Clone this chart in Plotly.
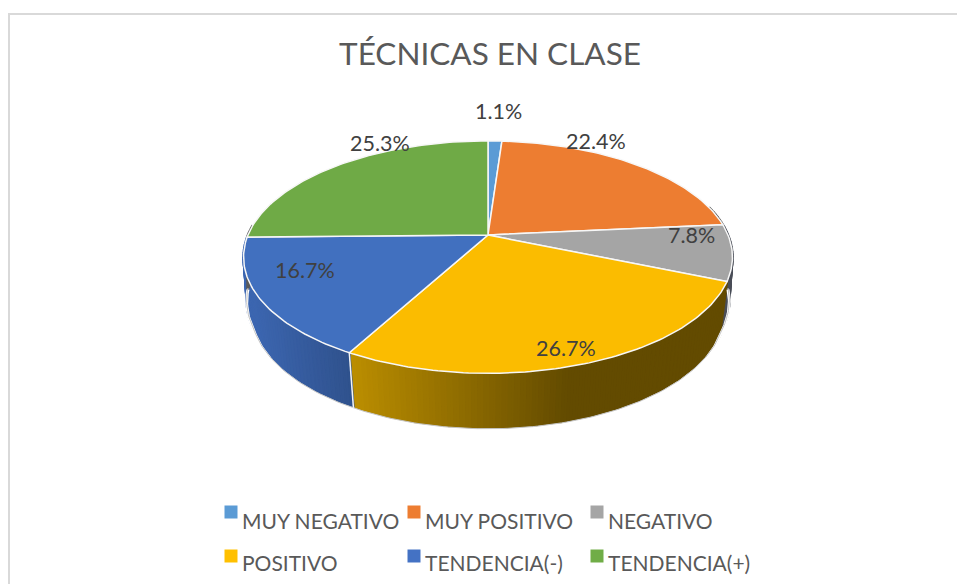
import math
import plotly.graph_objects as go

title = "TÉCNICAS EN CLASE"
categories = ["MUY NEGATIVO", "MUY POSITIVO", "NEGATIVO", "POSITIVO", "TENDENCIA(-)", "TENDENCIA(+)"]
values = [1.1, 22.4, 7.8, 26.7, 16.7, 25.3]
colors = ["#5B9BD5", "#ED7D31", "#A5A5A5", "#FFC000", "#4472C4", "#70AD47"]
legend_colors = colors
top_colors = ["#5B9BD5", "#ED7D31", "#A5A5A5", "#FBBC00", "#4170BF", "#6FAA46"]

W, H = 957, 584
CX, CY, R, A, K = 488, 235, 240, 112, 0.19
CY2, A2, SHRINK = 288, 114, 0.03
FONT = "Lato, Carlito, sans-serif"

label_pos = [(498, 111), (596, 141), (691, 235), (566, 348), (305, 270), (380, 143)]
legend_cols = [231, 414, 597]
legend_rows = [512, 556]
legend_text_y = [520, 562]
legend_text_dx = 9


def top_pt(a):
    s, c = math.cos(a), math.sin(a)
    d = 1 + K * s
    return CX + R * c / d, CY - A * s / d


def bot_pt(a):
    s, c = math.cos(a), math.sin(a)
    d = 1 + K * s
    shrink = 1 - SHRINK * min(1.0, max(0.0, -s / 0.35))
    return CX + shrink * R * c / d, CY2 - A2 * s / d


def lerp(p, q, t):
    t = max(0.0, min(1.0, t))
    return tuple(round(p[i] + (q[i] - p[i]) * t) for i in range(3))


def wall_color(name, x):
    if name == "POSITIVO":
        return lerp((186, 141, 0), (99, 75, 0), (x - 352) / 215)
    if name == "TENDENCIA(-)":
        return lerp((60, 102, 176), (47, 81, 140), (x - 250) / 100)
    if name == "NEGATIVO":
        return (74, 78, 88)
    return (90, 90, 90)


fig = go.Figure()
total = sum(values)
cum = 0.0
spans = []
for v in values:
    a0 = cum / total * 2 * math.pi
    cum += v
    a1 = cum / total * 2 * math.pi
    spans.append((a0, a1))

# side wall, drawn as thin strips so the shading runs along it
for name, (a0, a1) in zip(categories, spans):
    lo, hi = max(a0, math.radians(75)), min(a1, math.radians(275))
    if hi <= lo:
        continue
    n = max(2, int(math.degrees(hi - lo) / 1.2))
    for i in range(n):
        b0 = lo + (hi - lo) * i / n
        b1 = lo + (hi - lo) * (i + 1) / n
        p = [top_pt(b0), top_pt(b1), bot_pt(b1), bot_pt(b0)]
        col = "rgb(%d,%d,%d)" % wall_color(name, (p[0][0] + p[1][0]) / 2)
        fig.add_trace(go.Scatter(
            x=[q[0] for q in p] + [p[0][0]], y=[q[1] for q in p] + [p[0][1]],
            mode="lines", fill="toself", fillcolor=col, line=dict(color=col, width=2.5),
            hoverinfo="skip", showlegend=False))

# white background just outside the wall hides the strip overdraw
arc = [math.radians(90 + i) for i in range(0, 181)]
rim_x = [bot_pt(a)[0] for a in arc]
rim_y = [bot_pt(a)[1] for a in arc]
fig.add_trace(go.Scatter(x=rim_x, y=[v + 1.5 for v in rim_y], mode="lines",
                         line=dict(color="white", width=3), hoverinfo="skip", showlegend=False))
fig.add_trace(go.Scatter(x=rim_x, y=rim_y, mode="lines",
                         line=dict(color="#c4c4c4", width=1), hoverinfo="skip", showlegend=False))

# white edge between the two wall segments
a_edge = spans[3][1]
fig.add_trace(go.Scatter(x=[top_pt(a_edge)[0], bot_pt(a_edge)[0]], y=[top_pt(a_edge)[1], bot_pt(a_edge)[1]],
                         mode="lines", line=dict(color="#f4f4f4", width=1.5), hoverinfo="skip", showlegend=False))

# top face
for name, col, (a0, a1) in zip(categories, top_colors, spans):
    n = max(4, int(math.degrees(a1 - a0)))
    pts = [top_pt(a0 + (a1 - a0) * i / n) for i in range(n + 1)]
    fig.add_trace(go.Scatter(
        x=[CX] + [q[0] for q in pts] + [CX], y=[CY] + [q[1] for q in pts] + [CY],
        mode="lines", fill="toself", fillcolor=col, line=dict(color="#f7f7f7", width=1.5),
        name=name, hoverinfo="skip", showlegend=False))

# legend swatches
for i, (name, col) in enumerate(zip(categories, legend_colors)):
    lx, ly = legend_cols[i % 3], legend_rows[i // 3]
    fig.add_trace(go.Scatter(x=[lx], y=[ly], mode="markers",
                             marker=dict(symbol="square", size=13, color=col, line=dict(width=0)),
                             hoverinfo="skip", showlegend=False))

annotations = []
for v, (lx, ly) in zip(values, label_pos):
    annotations.append(dict(x=lx, y=ly, text=f"{v:.1f}%", showarrow=False, xanchor="center", yanchor="middle",
                            font=dict(family=FONT, size=21.5, color="#404040")))
for i, name in enumerate(categories):
    annotations.append(dict(x=legend_cols[i % 3] + legend_text_dx, y=legend_text_y[i // 3], text=name,
                            showarrow=False, xanchor="left", yanchor="middle",
                            font=dict(family=FONT, size=21, color="#595959")))

fig.update_layout(
    width=W, height=H, margin=dict(l=0, r=0, t=0, b=0), autosize=False,
    paper_bgcolor="white", plot_bgcolor="white", showlegend=False,
    title=dict(text=title, x=490 / W, y=1 - 54 / H, xanchor="center", yanchor="middle",
               font=dict(family=FONT, size=31.5, color="#595959")),
    xaxis=dict(range=[0, W], visible=False, domain=[0, 1], fixedrange=True),
    yaxis=dict(range=[H, 0], visible=False, domain=[0, 1], fixedrange=True),
    annotations=annotations,
    shapes=[dict(type="rect", xref="paper", yref="paper", x0=9 / W, x1=1.02, y0=-0.02, y1=1 - 14 / H,
                 line=dict(color="#d9d9d9", width=2), fillcolor="rgba(0,0,0,0)", layer="below")],
)
fig.write_html("out.html", config=dict(displayModeBar=False),
               post_script="document.body.style.margin='0';document.body.style.overflow='hidden';")
